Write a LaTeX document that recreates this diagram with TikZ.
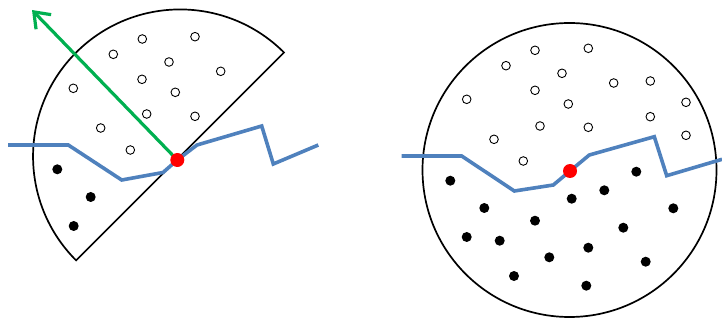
\documentclass[tikz,border=0pt]{standalone}
\usetikzlibrary{arrows.meta}
\definecolor{bluel}{RGB}{79,129,189}
\definecolor{greenl}{RGB}{0,176,80}
\definecolor{redd}{RGB}{255,0,0}
\tikzset{
  opent/.style={draw=black, line width=0.9pt, fill=white},
  fillt/.style={fill=black},
  outline/.style={draw=black, line width=1.7pt},
  bline/.style={draw=bluel, line width=3.6pt, line join=miter},
  rdot/.style={fill=redd},
}
\begin{document}
\begin{tikzpicture}[x=1pt,y=-1pt]
\useasboundingbox (0,0) rectangle (722,320);
% ---------- left: half disc ----------
\draw[outline] (284,52.5) arc[start angle=-45, end angle=-225, radius=147] -- cycle;
\foreach \p in {(142.3,39),(195,36.7),(113.3,54.3),(169,62),(220.7,71.3),(142,79.3),(73.3,88.3),(175.3,92.3),(146.7,114),(195,116.3),(100.7,128),(130.3,150)}
  \draw[opent] \p circle[radius=4.3];
\foreach \p in {(57.3,169.3),(90.7,197),(73.7,226)}
  \fill[fillt] \p circle[radius=5];
\draw[bline] (8,145) -- (68.3,145) -- (121.7,180) -- (163,172.5) -- (177.3,160) -- (197,145) -- (261.7,126) -- (273.3,164) -- (318.3,145);
\coordinate (dl) at (177.3,160);
\coordinate (tip) at (32,10);
\draw[greenl, line width=3.2pt, -{Straight Barb[length=14pt,width=21pt,line width=3.2pt]}] (dl) -- (tip);
\fill[rdot] (dl) circle[radius=7];
% ---------- right: full disc ----------
\draw[outline] (569.5,170) circle[radius=147];
\foreach \p in {(535,50.3),(588.3,48.3),(506,65.7),(562,73.3),(613.7,83),(650.3,81),(535,90.3),(466.7,99.3),(568.3,104),(686,102.3),(540,126),(588.3,127.3),(650.3,116.7),(494,139.3),(686,135.3),(523.3,161)}
  \draw[opent] \p circle[radius=4.3];
\foreach \p in {(450.3,180.7),(484.3,208),(466.7,237),(535,220.7),(571.7,198.7),(604.3,190.3),(636.3,171.7),(673.3,208.3),(623.3,227.7),(499.7,240.7),(549.3,257.3),(588.3,247.7),(645.7,261.7),(514,276),(586.3,285.7)}
  \fill[fillt] \p circle[radius=5];
\draw[bline] (401.7,156) -- (461.7,156) -- (514.3,191) -- (553.3,185) -- (570,171) -- (589.3,155) -- (654.3,136.7) -- (666.7,175.7) -- (722,159.3);
\coordinate (dr) at (570,171);
\fill[rdot] (dr) circle[radius=7];
\end{tikzpicture}
\end{document}
